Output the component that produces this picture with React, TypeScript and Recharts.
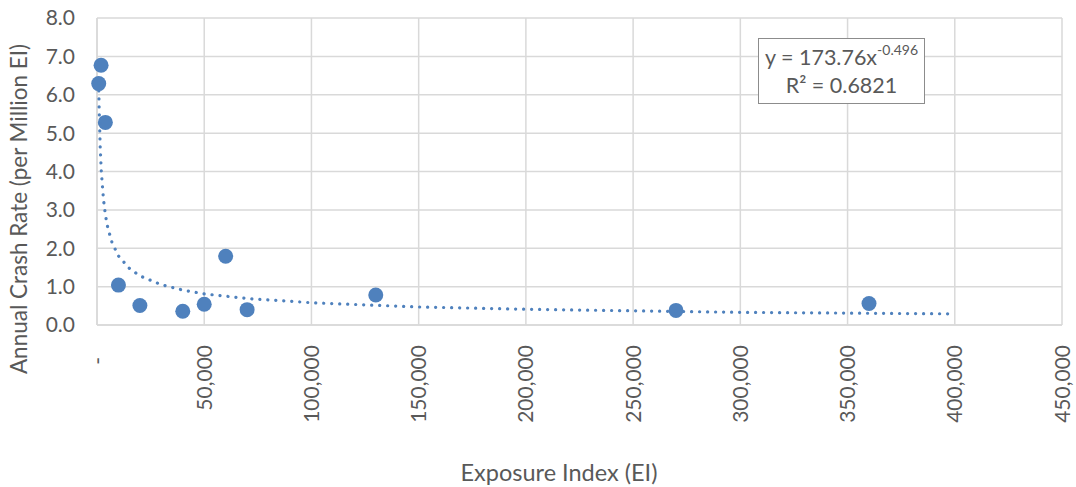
import React from "react";
import {
    ScatterChart,
    Scatter,
    XAxis,
    YAxis,
    CartesianGrid,
    Label
} from "recharts";

// measured points
const exposureIndex = [800, 1900, 3900, 10000, 20000, 40000, 50000, 60000, 70000, 130000, 270000, 360000];
const crashRate = [6.29, 6.77, 5.28, 1.04, 0.51, 0.36, 0.54, 1.79, 0.40, 0.78, 0.38, 0.56];

// power trendline
const trendX = [800, 1000, 1500, 2000, 3000, 4000, 5000, 7000, 10000, 15000, 20000, 30000, 40000, 50000, 70000, 100000, 150000, 200000, 250000, 300000, 350000, 400000];
const trendY = [6.31, 5.65, 4.62, 4.01, 3.28, 2.84, 2.54, 2.15, 1.8, 1.48, 1.28, 1.05, 0.91, 0.81, 0.69, 0.58, 0.47, 0.41, 0.37, 0.33, 0.31, 0.29];

const xTicks = [0, 50000, 100000, 150000, 200000, 250000, 300000, 350000, 400000, 450000];
const yTicks = [0, 1, 2, 3, 4, 5, 6, 7, 8];

const FONT = "Lato, 'Open Sans', sans-serif";
const TEXT = "#595959";
const GRID = "#d9d9d9";
const BLUE = "#4f81bd";

const points = exposureIndex.map((x, i) => ({ x, y: crashRate[i] }));
const trend = trendX.map((x, i) => ({ x, y: trendY[i] }));

function XTick(props: any) {
    const { x, payload } = props;
    const isZero = payload.value === 0;
    const label = isZero ? "-" : payload.value.toLocaleString("en-US");
    const ty = isZero ? 357 : 345;
    return (
        <text
            x={x}
            y={ty}
            dy="0.36em"
            transform={`rotate(-90 ${x} ${ty})`}
            textAnchor="end"
            fill={TEXT}
            fontSize={21}
            fontFamily={FONT}
        >
            {label}
        </text>
    );
}

function Dot(props: any) {
    return <circle cx={props.cx} cy={props.cy} r={7.5} fill={BLUE} />;
}

export default function App() {
    return (
        <div style={{ position: "fixed", left: 0, top: 0, width: 1076, height: 487, background: "#fff" }}>
            <ScatterChart
                width={1076}
                height={487}
                margin={{ top: 18, right: 14, left: 0, bottom: 0 }}
            >
                <CartesianGrid stroke={GRID} strokeWidth={1.5} />
                <XAxis
                    type="number"
                    dataKey="x"
                    domain={[0, 450000]}
                    ticks={xTicks}
                    interval={0}
                    height={162}
                    tickLine={false}
                    axisLine={{ stroke: GRID, strokeWidth: 1.5 }}
                    tick={<XTick />}
                >
                    <Label
                        content={() => (
                            <text x={559} y={481} textAnchor="middle" fill={TEXT} fontSize={23.5} fontFamily={FONT}>
                                Exposure Index (EI)
                            </text>
                        )}
                    />
                </XAxis>
                <YAxis
                    type="number"
                    dataKey="y"
                    domain={[0, 8]}
                    ticks={yTicks}
                    interval={0}
                    width={97}
                    tickLine={false}
                    tickMargin={16}
                    axisLine={{ stroke: GRID, strokeWidth: 1.5 }}
                    tickFormatter={(v: number) => v.toFixed(1)}
                    tick={{ fill: TEXT, fontSize: 21, fontFamily: FONT }}
                >
                    <Label
                        content={() => (
                            <text
                                x={27}
                                y={209}
                                transform="rotate(-90 27 209)"
                                textAnchor="middle"
                                fill={TEXT}
                                fontSize={22.5}
                                fontFamily={FONT}
                            >
                                Annual Crash Rate (per Million EI)
                            </text>
                        )}
                    />
                </YAxis>
                <Scatter data={points} shape={<Dot />} isAnimationActive={false} />
                <Scatter
                    data={trend}
                    shape={() => <g />}
                    line={{ stroke: BLUE, strokeWidth: 3.2, strokeDasharray: "0.1 7.9", strokeLinecap: "round" }}
                    isAnimationActive={false}
                />
            </ScatterChart>
            <div
                style={{
                    position: "absolute",
                    left: 758,
                    top: 38,
                    width: 167,
                    height: 66,
                    border: "1.5px solid #8c8c8c",
                    background: "#fff",
                    fontFamily: FONT,
                    fontSize: 21.5,
                    color: TEXT,
                    textAlign: "center",
                    lineHeight: "28px",
                    paddingTop: 4,
                    boxSizing: "border-box"
                }}
            >
                <div>
                    y = 173.76x<sup style={{ fontSize: 14, verticalAlign: "top", lineHeight: "14px" }}>-0.496</sup>
                </div>
                <div>R² = 0.6821</div>
            </div>
        </div>
    );
}
